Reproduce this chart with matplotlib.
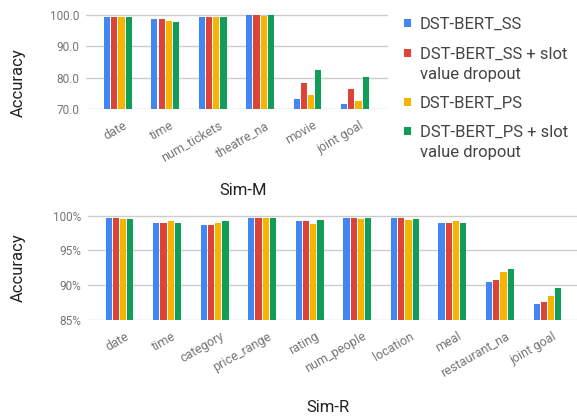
import numpy as np
import matplotlib
matplotlib.use("Agg")
import matplotlib.pyplot as plt
import matplotlib.transforms as mtransforms
from matplotlib.patches import Rectangle

plt.rcParams['font.family'] = ['Roboto', 'DejaVu Sans']

series = ['DST-BERT_SS', 'DST-BERT_SS + slot\nvalue dropout',
          'DST-BERT_PS', 'DST-BERT_PS + slot\nvalue dropout']
colors = ['#4285F4', '#DB4437', '#F4B400', '#0F9D58']

# Sim-M
m_slots = ['date', 'time', 'num_tickets', 'theatre_na', 'movie', 'joint goal']
m_ss = [99.4, 98.6, 99.3, 100.0, 73.1, 71.5]
m_ss_drop = [99.4, 98.7, 99.3, 100.0, 78.2, 76.3]
m_ps = [99.3, 98.1, 99.3, 99.5, 74.4, 72.4]
m_ps_drop = [99.3, 97.8, 99.3, 99.8, 82.4, 80.1]

# Sim-R
r_slots = ['date', 'time', 'category', 'price_range', 'rating', 'num_people',
           'location', 'meal', 'restaurant_na', 'joint goal']
r_ss = [99.72, 99.0, 98.67, 99.62, 99.2, 99.72, 99.62, 99.0, 90.53, 87.36]
r_ss_drop = [99.72, 99.0, 98.67, 99.62, 99.2, 99.72, 99.62, 99.0, 90.77, 87.6]
r_ps = [99.57, 99.2, 99.0, 99.62, 98.77, 99.57, 99.43, 99.2, 91.95, 88.5]
r_ps_drop = [99.57, 99.0, 99.3, 99.62, 99.43, 99.72, 99.53, 98.9, 92.33, 89.6]

GRID = '#cccccc'
TICK = '#757575'
W, H = 577, 418

fig = plt.figure(figsize=(5.77, 4.18), dpi=100)
shift = mtransforms.ScaledTranslation(0.05, 0, fig.dpi_scale_trans)


def draw(ax, slots, vals, ylim, yticks, yfmt, xlim):
    x = np.arange(len(slots))
    step = 0.152
    for i, v in enumerate(vals):
        ax.bar(x + (i - 1.5) * step, np.array(v) - ylim[0], bottom=ylim[0],
               width=step * 0.86, color=colors[i], edgecolor='none', zorder=3)
    ax.set_xlim(*xlim)
    ax.set_ylim(*ylim)
    ax.set_yticks(yticks)
    ax.set_yticklabels([yfmt(t) for t in yticks], color=TICK, fontsize=8.5)
    ax.set_xticks(x)
    ax.set_xticklabels(slots, rotation=30, ha='right', rotation_mode='anchor',
                       color=TICK, fontsize=9)
    ax.tick_params(length=0, pad=5)
    ax.tick_params(axis='x', pad=7)
    for lab in ax.get_xticklabels():
        lab.set_transform(lab.get_transform() + shift)
    ax.grid(axis='y', color=GRID, linewidth=1, zorder=0)
    for s in ax.spines.values():
        s.set_visible(False)


ax1 = fig.add_axes([86 / W, 309 / H, 302 / W, 95 / H])
draw(ax1, m_slots, [m_ss, m_ss_drop, m_ps, m_ps_drop], (70, 100),
     [70, 80, 90, 100], lambda t: f'{t:.1f}', (-0.671, 5.70))
ax1.set_ylim(70, 100.2)

ax2 = fig.add_axes([88 / W, 98 / H, 489 / W, 105 / H])
draw(ax2, r_slots, [r_ss, r_ss_drop, r_ps, r_ps_drop], (85, 100),
     [85, 90, 95, 100], lambda t: f'{t:d}%', (-0.662, 9.62))
ax2.set_ylim(85, 100.1)

fig.text(18 / W, 1 - 83 / H, 'Accuracy', rotation=90, ha='center',
         va='center', fontsize=12, color='#222222')
fig.text(18 / W, 1 - 268 / H, 'Accuracy', rotation=90, ha='center',
         va='center', fontsize=12, color='#222222')
fig.text(243 / W, 1 - 190 / H, 'Sim-M', ha='center', va='center',
         fontsize=12, color='#222222')
fig.text(328 / W, 1 - 408 / H, 'Sim-R', ha='center', va='center',
         fontsize=12, color='#222222')

# legend, drawn by hand to match the line pitch of the original
entry_y = [23, 53, 102, 131]
for label, c, y0 in zip(series, colors, entry_y):
    fig.patches.append(Rectangle((404 / W, 1 - (y0 + 3.5) / H), 7 / W, 7 / H,
                                 transform=fig.transFigure, facecolor=c,
                                 edgecolor='none'))
    for k, line in enumerate(label.split('\n')):
        fig.text(420 / W, 1 - (y0 + k * 19.5) / H, line, ha='left',
                 va='center_baseline', fontsize=12, color='#444444')

fig.savefig('out.png', dpi=100)
